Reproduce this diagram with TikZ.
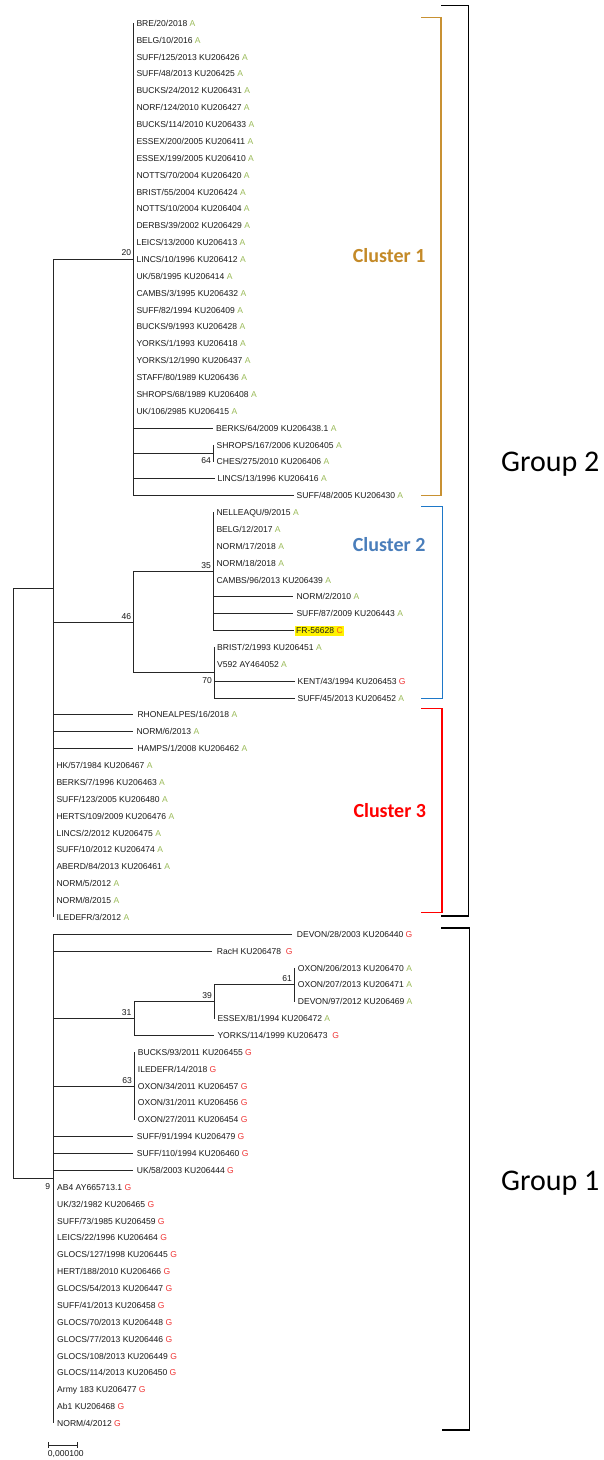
\documentclass[tikz,border=0pt]{standalone}
\usepackage{fontspec}
\setmainfont{Liberation Sans}
\newfontfamily\calib{Carlito}
\usetikzlibrary{calc}
\definecolor{cA}{RGB}{155,187,89}
\definecolor{cG}{RGB}{240,55,55}
\definecolor{cC}{RGB}{250,90,20}
\definecolor{clone}{RGB}{200,145,50}
\definecolor{clonet}{RGB}{196,138,40}
\definecolor{cltwo}{RGB}{30,120,200}
\definecolor{cltwot}{RGB}{74,126,187}
\definecolor{clthree}{RGB}{255,0,0}
\newcommand\sA{\textcolor{cA}{A}}
\newcommand\sG{\textcolor{cG}{G}}
\newcommand\leafnode[5]{\node[leaf=#4] (#1) at (#2,{23.2+16.87*#3}) {#5};}
\begin{document}
\begin{tikzpicture}[x=1pt,y=-1pt,
  br/.style={line width=0.8pt, draw=black!85},
  leaf/.style={anchor=west, inner xsep=#1, inner ysep=0pt, text height=6.2pt, text depth=0pt, font=\fontsize{8.55}{10}\selectfont, text=black!90},
  leaf/.default=3pt,
  sup/.style={anchor=base east, inner sep=0pt, font=\fontsize{8.55}{10}\selectfont, text=black!90},
  bracket/.style={line width=1.2pt},
  cltext/.style={anchor=base west, inner sep=0pt, font=\calib\bfseries\fontsize{20}{24}\selectfont},
  grtext/.style={anchor=base west, inner sep=0pt, font=\calib\fontsize{30}{36}\selectfont}]
\fill[white] (0,0) rectangle (604,1460);
\useasboundingbox (0,0) rectangle (604,1460);

% internal nodes
\coordinate (root) at (13.3,883.6);
\coordinate (g2) at (53.3,588.35);
\coordinate (g1) at (53.3,1178.8);
\coordinate (p20) at (133.3,259.38);
\coordinate (p64) at (213,453.39);
\coordinate (p46) at (133.3,622.09);
\coordinate (p35) at (213.3,571.48);
\coordinate (p70) at (214,672.7);
\coordinate (p31) at (134,1018.53);
\coordinate (p39) at (214,1001.66);
\coordinate (p61) at (294,984.79);
\coordinate (p63) at (134.5,1086.01);

% leaves: cluster 1
\leafnode{L0}{133.3}{0}{3pt}{BRE/20/2018 \sA}
\leafnode{L1}{133.3}{1}{3pt}{BELG/10/2016 \sA}
\leafnode{L2}{133.3}{2}{3pt}{SUFF/125/2013 KU206426 \sA}
\leafnode{L3}{133.3}{3}{3pt}{SUFF/48/2013 KU206425 \sA}
\leafnode{L4}{133.3}{4}{3pt}{BUCKS/24/2012 KU206431 \sA}
\leafnode{L5}{133.3}{5}{3pt}{NORF/124/2010 KU206427 \sA}
\leafnode{L6}{133.3}{6}{3pt}{BUCKS/114/2010 KU206433 \sA}
\leafnode{L7}{133.3}{7}{3pt}{ESSEX/200/2005 KU206411 \sA}
\leafnode{L8}{133.3}{8}{3pt}{ESSEX/199/2005 KU206410 \sA}
\leafnode{L9}{133.3}{9}{3pt}{NOTTS/70/2004 KU206420 \sA}
\leafnode{L10}{133.3}{10}{3pt}{BRIST/55/2004 KU206424 \sA}
\leafnode{L11}{133.3}{11}{3pt}{NOTTS/10/2004 KU206404 \sA}
\leafnode{L12}{133.3}{12}{3pt}{DERBS/39/2002 KU206429 \sA}
\leafnode{L13}{133.3}{13}{3pt}{LEICS/13/2000 KU206413 \sA}
\leafnode{L14}{133.3}{14}{3pt}{LINCS/10/1996 KU206412 \sA}
\leafnode{L15}{133.3}{15}{3pt}{UK/58/1995 KU206414 \sA}
\leafnode{L16}{133.3}{16}{3pt}{CAMBS/3/1995 KU206432 \sA}
\leafnode{L17}{133.3}{17}{3pt}{SUFF/82/1994 KU206409 \sA}
\leafnode{L18}{133.3}{18}{3pt}{BUCKS/9/1993 KU206428 \sA}
\leafnode{L19}{133.3}{19}{3pt}{YORKS/1/1993 KU206418 \sA}
\leafnode{L20}{133.3}{20}{3pt}{YORKS/12/1990 KU206437 \sA}
\leafnode{L21}{133.3}{21}{3pt}{STAFF/80/1989 KU206436 \sA}
\leafnode{L22}{133.3}{22}{3pt}{SHROPS/68/1989 KU206408 \sA}
\leafnode{L23}{133.3}{23}{3pt}{UK/106/2985 KU206415 \sA}
\leafnode{L24}{213}{24}{3pt}{BERKS/64/2009 KU206438.1 \sA}
\leafnode{L25}{213}{25}{3.5pt}{SHROPS/167/2006 KU206405 \sA}
\leafnode{L26}{213}{26}{3.5pt}{CHES/275/2010 KU206406 \sA}
\leafnode{L27}{214.7}{27}{2.6pt}{LINCS/13/1996 KU206416 \sA}
\leafnode{L28}{294}{28}{2.5pt}{SUFF/48/2005 KU206430 \sA}
% cluster 2
\leafnode{L29}{213.3}{29}{3pt}{NELLEAQU/9/2015 \sA}
\leafnode{L30}{213.3}{30}{3pt}{BELG/12/2017 \sA}
\leafnode{L31}{213.3}{31}{3pt}{NORM/17/2018 \sA}
\leafnode{L32}{213.3}{32}{3pt}{NORM/18/2018 \sA}
\leafnode{L33}{213.3}{33}{3pt}{CAMBS/96/2013 KU206439 \sA}
\leafnode{L34}{293.3}{34}{3pt}{NORM/2/2010 \sA}
\leafnode{L35}{293.3}{35}{3pt}{SUFF/87/2009 KU206443 \sA}
\node[leaf=1.7pt, inner ysep=1.9pt, fill=yellow] (L36) at (294.3,{23.2+16.87*36}) {FR-56628 \textcolor{cC}{C}};
\leafnode{L37}{214}{37}{3pt}{BRIST/2/1993 KU206451 \sA}
\leafnode{L38}{214}{38}{3pt}{V592 AY464052 \sA}
\leafnode{L39}{294.5}{39}{3pt}{KENT/43/1994 KU206453 \sG}
\leafnode{L40}{294.5}{40}{3pt}{SUFF/45/2013 KU206452 \sA}
% cluster 3
\leafnode{L41}{133.3}{41}{4pt}{RHONEALPES/16/2018 \sA}
\leafnode{L42}{133.3}{42}{3pt}{NORM/6/2013 \sA}
\leafnode{L43}{133.3}{43}{4pt}{HAMPS/1/2008 KU206462 \sA}
\leafnode{L44}{53.3}{44}{3pt}{HK/57/1984 KU206467 \sA}
\leafnode{L45}{53.3}{45}{3pt}{BERKS/7/1996 KU206463 \sA}
\leafnode{L46}{53.3}{46}{3pt}{SUFF/123/2005 KU206480 \sA}
\leafnode{L47}{53.3}{47}{3pt}{HERTS/109/2009 KU206476 \sA}
\leafnode{L48}{53.3}{48}{3pt}{LINCS/2/2012 KU206475 \sA}
\leafnode{L49}{53.3}{49}{3pt}{SUFF/10/2012 KU206474 \sA}
\leafnode{L50}{53.3}{50}{3pt}{ABERD/84/2013 KU206461 \sA}
\leafnode{L51}{53.3}{51}{3pt}{NORM/5/2012 \sA}
\leafnode{L52}{53.3}{52}{3pt}{NORM/8/2015 \sA}
\leafnode{L53}{53.3}{53}{3pt}{ILEDEFR/3/2012 \sA}
% group 1
\leafnode{L54}{292.3}{54}{4.4pt}{DEVON/28/2003 KU206440 \sG}
\leafnode{L55}{212.3}{55}{4.4pt}{RacH KU206478 \ \sG}
\leafnode{L56}{294}{56}{3.7pt}{OXON/206/2013 KU206470 \sA}
\leafnode{L57}{294}{57}{3.7pt}{OXON/207/2013 KU206471 \sA}
\leafnode{L58}{294}{58}{3.7pt}{DEVON/97/2012 KU206469 \sA}
\leafnode{L59}{214}{59}{3.3pt}{ESSEX/81/1994 KU206472 \sA}
\leafnode{L60}{213.5}{60}{3.8pt}{YORKS/114/1999 KU206473 \ \sG}
\leafnode{L61}{134.5}{61}{3.2pt}{BUCKS/93/2011 KU206455 \sG}
\leafnode{L62}{134.5}{62}{3.2pt}{ILEDEFR/14/2018 \sG}
\leafnode{L63}{134.5}{63}{3.2pt}{OXON/34/2011 KU206457 \sG}
\leafnode{L64}{134.5}{64}{3.2pt}{OXON/31/2011 KU206456 \sG}
\leafnode{L65}{134.5}{65}{3.2pt}{OXON/27/2011 KU206454 \sG}
\leafnode{L66}{133}{66}{3.7pt}{SUFF/91/1994 KU206479 \sG}
\leafnode{L67}{133}{67}{3.7pt}{SUFF/110/1994 KU206460 \sG}
\leafnode{L68}{133}{68}{3.7pt}{UK/58/2003 KU206444 \sG}
\leafnode{L69}{53.3}{69}{3.7pt}{AB4 AY665713.1 \sG}
\leafnode{L70}{53.3}{70}{3.7pt}{UK/32/1982 KU206465 \sG}
\leafnode{L71}{53.3}{71}{3.7pt}{SUFF/73/1985 KU206459 \sG}
\leafnode{L72}{53.3}{72}{3.7pt}{LEICS/22/1996 KU206464 \sG}
\leafnode{L73}{53.3}{73}{3.7pt}{GLOCS/127/1998 KU206445 \sG}
\leafnode{L74}{53.3}{74}{3.7pt}{HERT/188/2010 KU206466 \sG}
\leafnode{L75}{53.3}{75}{3.7pt}{GLOCS/54/2013 KU206447 \sG}
\leafnode{L76}{53.3}{76}{3.7pt}{SUFF/41/2013 KU206458 \sG}
\leafnode{L77}{53.3}{77}{3.7pt}{GLOCS/70/2013 KU206448 \sG}
\leafnode{L78}{53.3}{78}{3.7pt}{GLOCS/77/2013 KU206446 \sG}
\leafnode{L79}{53.3}{79}{3.7pt}{GLOCS/108/2013 KU206449 \sG}
\leafnode{L80}{53.3}{80}{3.7pt}{GLOCS/114/2013 KU206450 \sG}
\leafnode{L81}{53.3}{81}{3.7pt}{Army 183 KU206477 \sG}
\leafnode{L82}{53.3}{82}{3.7pt}{Ab1 KU206468 \sG}
\leafnode{L83}{53.3}{83}{3.7pt}{NORM/4/2012 \sG}

% branches
\draw[br] (root) |- (g2);
\draw[br] (root) |- (g1);
\draw[br] (g2) |- (p20);
\draw[br] (g2) |- (p46);
\foreach \i in {41,...,53} {\draw[br] (g2) |- (L\i.west);}
\foreach \i in {0,...,24,27,28} {\draw[br] (p20) |- (L\i.west);}
\draw[br] (p20) |- (p64);
\foreach \i in {25,26} {\draw[br] (p64) |- (L\i.west);}
\draw[br] (p46) |- (p35);
\draw[br] (p46) |- (p70);
\foreach \i in {29,...,36} {\draw[br] (p35) |- (L\i.west);}
\foreach \i in {37,...,40} {\draw[br] (p70) |- (L\i.west);}
\foreach \i in {54,55,66,67,68,69,...,83} {\draw[br] (g1) |- (L\i.west);}
\draw[br] (g1) |- (p31);
\draw[br] (g1) |- (p63);
\draw[br] (p31) |- (p39);
\draw[br] (p31) |- (L60.west);
\draw[br] (p39) |- (p61);
\draw[br] (p39) |- (L59.west);
\foreach \i in {56,57,58} {\draw[br] (p61) |- (L\i.west);}
\foreach \i in {61,...,65} {\draw[br] (p63) |- (L\i.west);}

% support values
\node[sup] (s20) at ($(p20)+(-2,-3.5)$) {20};
\node[sup] (s64) at ($(p64)+(-2,10)$) {64};
\node[sup] (s46) at ($(p46)+(-2,-3)$) {46};
\node[sup] (s35) at ($(p35)+(-2.3,-3)$) {35};
\node[sup] (s70) at ($(p70)+(-2,10.5)$) {70};
\node[sup] (s31) at ($(p31)+(-2.5,-3.5)$) {31};
\node[sup] (s39) at ($(p39)+(-2,-3.5)$) {39};
\node[sup] (s61) at ($(p61)+(-2,-3)$) {61};
\node[sup] (s63) at ($(p63)+(-2.5,-3)$) {63};
\node[sup] (s9) at ($(g1)+(-3,10.5)$) {9};

% brackets
\draw[bracket, clone] (421.3,17.3) -- (441,17.3) -- (441,495.3) -- (421.3,495.3);
\draw[bracket, cltwo] (421.3,506.7) -- (442.5,506.7) -- (442.5,698.5) -- (421.3,698.5);
\draw[bracket, clthree] (421.3,708.3) -- (442,708.3) -- (442,912.3) -- (421.3,912.3);
\draw[bracket, black] (441,5.3) -- (468.5,5.3) -- (468.5,916) -- (441,916);
\draw[bracket, black] (441,928) -- (469.3,928) -- (469.3,1430) -- (442.3,1430);

\node[cltext, text=clonet] (c1) at (352.7,262.7) {Cluster 1};
\node[cltext, text=cltwot] (c2) at (352.7,551) {Cluster 2};
\node[cltext, text=clthree] (c3) at (353.3,817.7) {Cluster 3};
\node[grtext] (gt2) at (501,471) {Group 2};
\node[grtext] (gt1) at (501,1190) {Group 1};

% scale bar
\coordinate (sb1) at (48.3,1445);
\coordinate (sb2) at (77.7,1445);
\draw[br] (sb1) -- (sb2);
\draw[br] ($(sb1)+(0,-3)$) -- ($(sb1)+(0,3)$);
\draw[br] ($(sb2)+(0,-3)$) -- ($(sb2)+(0,3)$);
\node[leaf=0pt] (sbl) at (47.7,1453.7) {0,000100};
\end{tikzpicture}
\end{document}
